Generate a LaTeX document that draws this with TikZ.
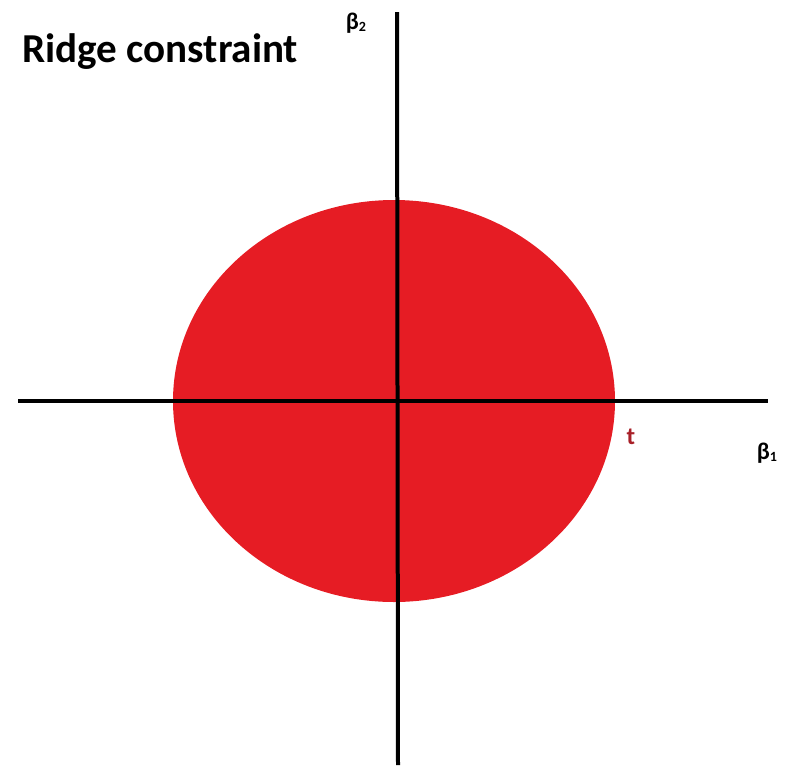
\documentclass[tikz,border=0pt]{standalone}
\usepackage{fontspec}
\setmainfont{Carlito}
\usetikzlibrary{calc}
\definecolor{ridgered}{RGB}{230,28,36}
\definecolor{tred}{RGB}{168,32,40}

\tikzset{axis/.style={line width=0.08cm, black}}
\newcommand{\smallsub}[1]{\raisebox{-0.15ex}{\fontsize{8}{9}\selectfont #1}}

\begin{document}
\begin{tikzpicture}[x=0.02cm, y=-0.02cm]
\useasboundingbox (0,0) rectangle (788,765);

%---constraint region---

\fill[ridgered](394,401) ellipse [x radius=221, y radius=201];

%---axes---

\coordinate (xl) at (18,401);
\coordinate (xr) at (768,401);
\coordinate (yt) at (397,12);
\coordinate (yb) at (398,765);

\draw[axis](xl)--(xr);
\draw[axis](yt)--(yb);

%---labels---

\node[anchor=base west, inner sep=0pt, font=\bfseries\fontsize{23.4}{28}\selectfont] (title) at (22,62) {Ridge constraint};
\node[inner sep=0pt, font=\bfseries\fontsize{13.6}{16}\selectfont] (b2) at (356,23) {β\smallsub{2}};
\node[inner sep=0pt, font=\bfseries\fontsize{13.6}{16}\selectfont] (b1) at (767,453) {β\smallsub{1}};
\node[inner sep=0pt, text=tred, font=\bfseries\fontsize{14}{16}\selectfont] (t) at (631,437) {t};

\end{tikzpicture}
\end{document}
